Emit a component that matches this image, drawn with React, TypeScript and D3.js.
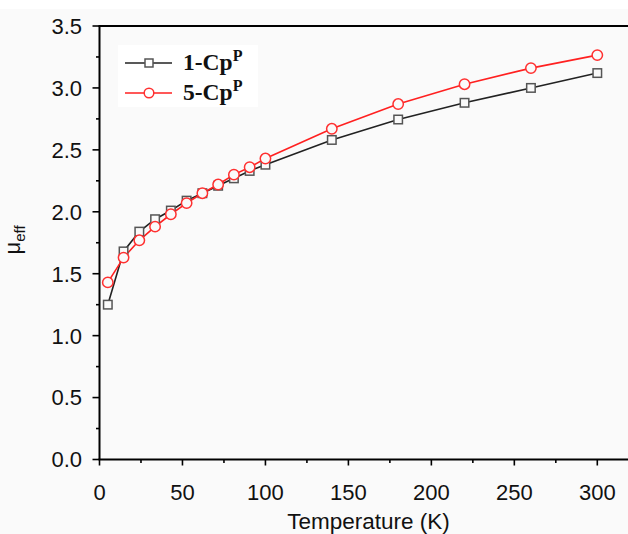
import React from 'react';
import * as d3 from 'd3';

// temperatures (K) and effective moments
const temps = [5, 14.5, 24, 33.5, 43, 52.5, 62, 71.5, 81, 90.5, 100, 140, 180, 220, 260, 300];
const cp1 = [1.25, 1.68, 1.84, 1.94, 2.01, 2.09, 2.15, 2.21, 2.27, 2.33, 2.38, 2.58, 2.745, 2.88, 3.0, 3.12];
const cp5 = [1.43, 1.63, 1.77, 1.88, 1.98, 2.07, 2.15, 2.22, 2.3, 2.36, 2.43, 2.67, 2.87, 3.03, 3.16, 3.265];

const xTicks = [0, 50, 100, 150, 200, 250, 300];
const yTicks = [0, 0.5, 1, 1.5, 2, 2.5, 3, 3.5];

const W = 628;
const H = 534;
const left = 99.5;
const top = 26;
const bottom = 459.5;

const App = () => {
  const x = d3.scaleLinear().domain([0, 320]).range([left, left + 320 * (497.8 / 300)]);
  const y = d3.scaleLinear().domain([0, 3.5]).range([bottom, top]);

  const line = d3
    .line<number>()
    .x((d, i) => x(temps[i]))
    .y((d) => y(d));

  const xMinor = d3.range(0, 325, 25);
  const yMinor = d3.range(0, 3.51, 0.25);
  const tickFont = "'Liberation Sans', Arial, sans-serif";
  const legFont = "'Liberation Serif', 'Times New Roman', serif";
  const sq = 8.5;

  return (
    <svg width={W} height={H} style={{ position: 'absolute', left: 0, top: 0 }}>
      <rect x={0} y={0} width={W} height={H} fill="#ffffff" />
      <rect x={0} y={9} width={W} height={H - 9} fill="#fafafa" />

      {/* legend box */}
      <rect x={118} y={45} width={140} height={62} fill="#ffffff" />

      {/* ticks */}
      {xMinor.map((t) => (
        <line key={'xt' + t} x1={x(t)} x2={x(t)} y1={bottom} y2={bottom + (t % 50 === 0 ? 6 : 3.5)} stroke="#000" strokeWidth={1.6} />
      ))}
      {yMinor.map((t) => (
        <line key={'yt' + t} x1={left} x2={left - (Math.abs(t * 2 - Math.round(t * 2)) < 1e-6 ? 7 : 3.5)} y1={y(t)} y2={y(t)} stroke="#000" strokeWidth={1.6} />
      ))}

      {/* axes frame */}
      <line x1={left} x2={left} y1={top} y2={bottom} stroke="#000" strokeWidth={2} />
      <line x1={left - 1} x2={W} y1={bottom} y2={bottom} stroke="#000" strokeWidth={2} />
      <line x1={left - 1} x2={W} y1={top} y2={top} stroke="#000" strokeWidth={2} />

      {xTicks.map((t) => (
        <text key={'xl' + t} x={x(t)} y={500} textAnchor="middle" fontFamily={tickFont} fontSize={22} fill="#111">
          {t}
        </text>
      ))}
      {yTicks.map((t) => (
        <text key={'yl' + t} x={82} y={y(t)} dy="0.36em" textAnchor="end" fontFamily={tickFont} fontSize={22} fill="#111">
          {t.toFixed(1)}
        </text>
      ))}

      <text x={368.5} y={529} textAnchor="middle" fontFamily={tickFont} fontSize={22.5} fill="#111">
        Temperature (K)
      </text>
      <text transform="translate(20,240) rotate(-90)" textAnchor="middle" fontFamily={tickFont} fontSize={22} fill="#111">
        μ<tspan fontSize={15} dy={5}>eff</tspan>
      </text>

      {/* series */}
      <path d={line(cp1) || ''} fill="none" stroke="#222" strokeWidth={1.6} />
      <path d={line(cp5) || ''} fill="none" stroke="#ff2020" strokeWidth={1.6} />
      {cp1.map((v, i) => (
        <rect key={'s' + i} x={x(temps[i]) - sq / 2} y={y(v) - sq / 2} width={sq} height={sq} fill="#fafafa" stroke="#555" strokeWidth={1.5} />
      ))}
      {cp5.map((v, i) => (
        <circle key={'c' + i} cx={x(temps[i])} cy={y(v)} r={5.2} fill="#fafafa" stroke="#ff3030" strokeWidth={1.5} />
      ))}

      {/* legend */}
      <line x1={125} x2={172} y1={63} y2={63} stroke="#222" strokeWidth={1.6} />
      <rect x={149 - 4} y={63 - 4} width={8} height={8} fill="#fff" stroke="#555" strokeWidth={1.5} />
      <text x={183} y={70} fontFamily={legFont} fontWeight="bold" fontSize={23.5} fill="#111">
        1-Cp<tspan fontSize={16} dy={-9}>P</tspan>
      </text>
      <line x1={125} x2={172} y1={93} y2={93} stroke="#ff2020" strokeWidth={1.6} />
      <circle cx={149} cy={93} r={4.8} fill="#fff" stroke="#ff3030" strokeWidth={1.5} />
      <text x={183} y={100} fontFamily={legFont} fontWeight="bold" fontSize={23.5} fill="#111">
        5-Cp<tspan fontSize={16} dy={-9}>P</tspan>
      </text>
    </svg>
  );
};

export default App;
